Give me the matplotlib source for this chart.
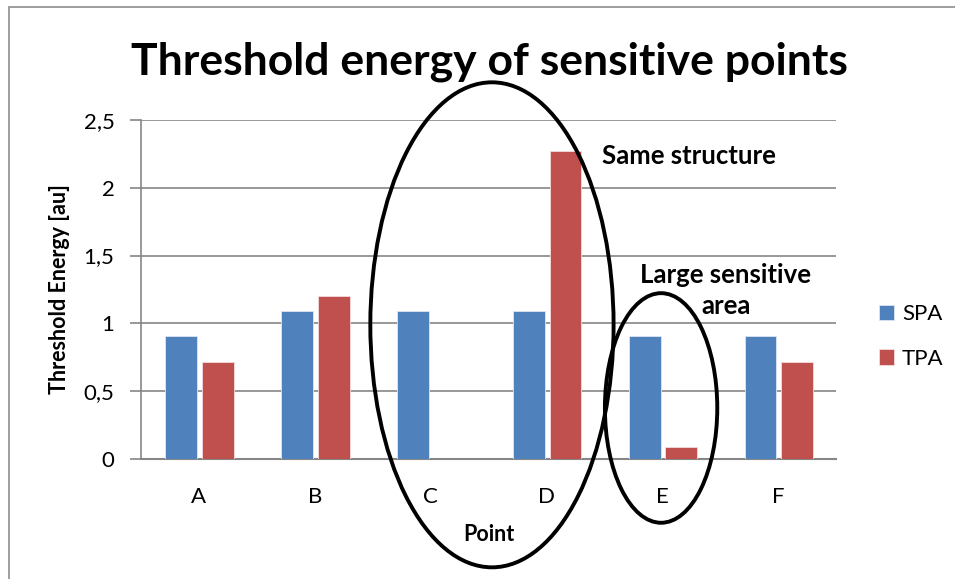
import numpy as np
import matplotlib
matplotlib.use('Agg')
import matplotlib.pyplot as plt
from matplotlib.patches import Ellipse, Rectangle
from matplotlib.ticker import FuncFormatter

plt.rcParams['font.family'] = ['Lato', 'DejaVu Sans']

points = ['A', 'B', 'C', 'D', 'E', 'F']
spa = [0.91, 1.09, 1.09, 1.09, 0.91, 0.91]
tpa = [0.72, 1.20, 0.0, 2.27, 0.09, 0.72]

fig = plt.figure(figsize=(9.55, 5.79), dpi=100)
ax = fig.add_axes([0.1476, 0.2067, 0.7278, 0.5866])

x = np.arange(len(points))
w = 0.275
ax.bar(x - 0.152, spa, w, color='#4F81BD', edgecolor='#DCE6F2', linewidth=0.6, label='SPA', zorder=3)
ax.bar(x + 0.165, tpa, w, color='#C0504D', edgecolor='#F2DCDB', linewidth=0.6, label='TPA', zorder=3)

ax.set_xlim(-0.5, 5.5)
ax.set_ylim(0, 2.5)
ax.set_yticks(np.arange(0, 2.51, 0.5))
ax.yaxis.set_major_formatter(FuncFormatter(lambda v, p: f"{v:g}".replace('.', ',')))
ax.set_xticks(x)
ax.set_xticklabels(points)
ax.tick_params(axis='x', length=0, pad=20, labelsize=16)
ax.tick_params(axis='y', length=8, width=1.2, color='#868686', pad=11, labelsize=16)
ax.grid(axis='y', color='#868686', linewidth=1.2, zorder=0)
for s in ['top', 'right']:
    ax.spines[s].set_visible(False)
ax.spines['left'].set_color('#868686')
ax.spines['bottom'].set_color('#868686')
ax.spines['left'].set_linewidth(1.2)
ax.spines['bottom'].set_linewidth(1.5)

ax.set_ylabel('Threshold Energy [au]', fontsize=15.5, fontweight='bold', labelpad=10)
ax.set_xlabel('Point', fontsize=15.5, fontweight='bold', labelpad=12)
fig.text(0.513, 0.894, 'Threshold energy of sensitive points', ha='center', va='center',
         fontsize=32, fontweight='bold')

# annotations
ax.add_patch(Ellipse((2.53, 0.99), 2.10, 3.57, fill=False, lw=2.8, ec='black', clip_on=False, zorder=4))
ax.add_patch(Ellipse((3.99, 0.378), 0.97, 1.69, fill=False, lw=2.8, ec='black', clip_on=False, zorder=4))
ax.text(3.48, 2.233, 'Same structure', fontsize=18.5, fontweight='bold', ha='left', va='center')
ax.text(4.55, 1.243, 'Large sensitive\narea', fontsize=18.5, fontweight='bold', ha='center', va='center',
        linespacing=1.35)

fig.legend(loc='center left', bbox_to_anchor=(0.92, 0.419), frameon=False, fontsize=16,
           handlelength=0.7, handleheight=0.7, handletextpad=0.35, labelspacing=1.1,
           borderaxespad=0, borderpad=0)

# chart border
fig.patches.append(Rectangle((9 / 955, -0.1), 1.1, 1 - 7 / 579 + 0.1, transform=fig.transFigure,
                             fill=False, ec='#8C8C8C', lw=1.2))

fig.savefig('out.png', dpi=100)
